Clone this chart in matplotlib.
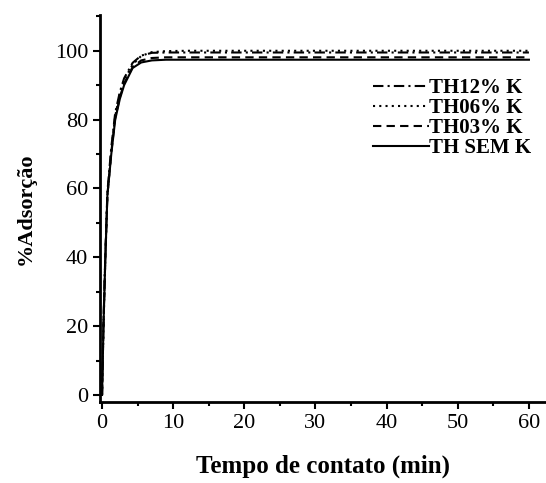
import matplotlib
matplotlib.use("Agg")
import matplotlib.pyplot as plt
from matplotlib.ticker import MultipleLocator

plt.rcParams['font.family'] = ['Liberation Serif', 'DejaVu Serif']

# contact time (min)
tempo = [0, 0.2, 0.45, 0.75, 1.3, 1.85, 2.5, 3.1, 4.3, 5.5, 7, 9, 12, 20, 30, 40, 50, 60]

# adsorption (%) for each sample
th12 = [0, 21, 40, 59, 72, 82, 88, 92, 96.5, 98.6, 99.4, 99.5, 99.5, 99.5, 99.5, 99.5, 99.5, 99.5]
th06 = [0, 20, 39, 58, 71, 81, 87.5, 91.5, 96, 98.5, 99.6, 99.9, 100, 100, 100, 100, 100, 100]
th03 = [0, 20, 39, 58, 70.5, 80.5, 86.5, 90.5, 95.3, 97.2, 97.9, 98.1, 98.1, 98.1, 98.1, 98.1, 98.1, 98.1]
sem_k = [0, 20, 39, 58, 70, 80, 86, 90, 95, 96.6, 97.2, 97.4, 97.4, 97.4, 97.4, 97.4, 97.4, 97.4]

labels = ["TH12% K", "TH06% K", "TH03% K", "TH SEM K"]
series = [th12, th06, th03, sem_k]
styles = [(0, (5, 2, 1, 2)), (0, (1, 2)), (0, (4, 2.5)), '-']

fig = plt.figure(figsize=(5.46, 4.83), dpi=100)
ax = fig.add_axes([0.183, 0.168, 0.817, 0.801])

for y, lab, ls in zip(series, labels, styles):
    ax.plot(tempo, y, color='black', linestyle=ls, linewidth=1.5, label=lab)

ax.set_xlim(-0.3, 62.4)
ax.set_ylim(-2, 110.4)
ax.xaxis.set_major_locator(MultipleLocator(10))
ax.xaxis.set_minor_locator(MultipleLocator(5))
ax.yaxis.set_major_locator(MultipleLocator(20))
ax.yaxis.set_minor_locator(MultipleLocator(10))

for side in ('top', 'right'):
    ax.spines[side].set_visible(False)
for side in ('left', 'bottom'):
    ax.spines[side].set_linewidth(2)

ax.tick_params(which='major', direction='out', length=5, width=1.5, labelsize=16)
ax.tick_params(which='minor', direction='out', length=3, width=1.5)

ax.set_xlabel("Tempo de contato (min)", fontsize=18, fontweight='bold', labelpad=16)
ax.set_ylabel("%Adsorção", fontsize=16, fontweight='bold', labelpad=14)

leg = ax.legend(loc='upper right', bbox_to_anchor=(1.0, 0.875), frameon=False,
                prop={'size': 15, 'weight': 'bold'}, handlelength=2.7,
                handletextpad=0.0, labelspacing=0.0, borderaxespad=0.3)

fig.savefig("out.png", dpi=100)
